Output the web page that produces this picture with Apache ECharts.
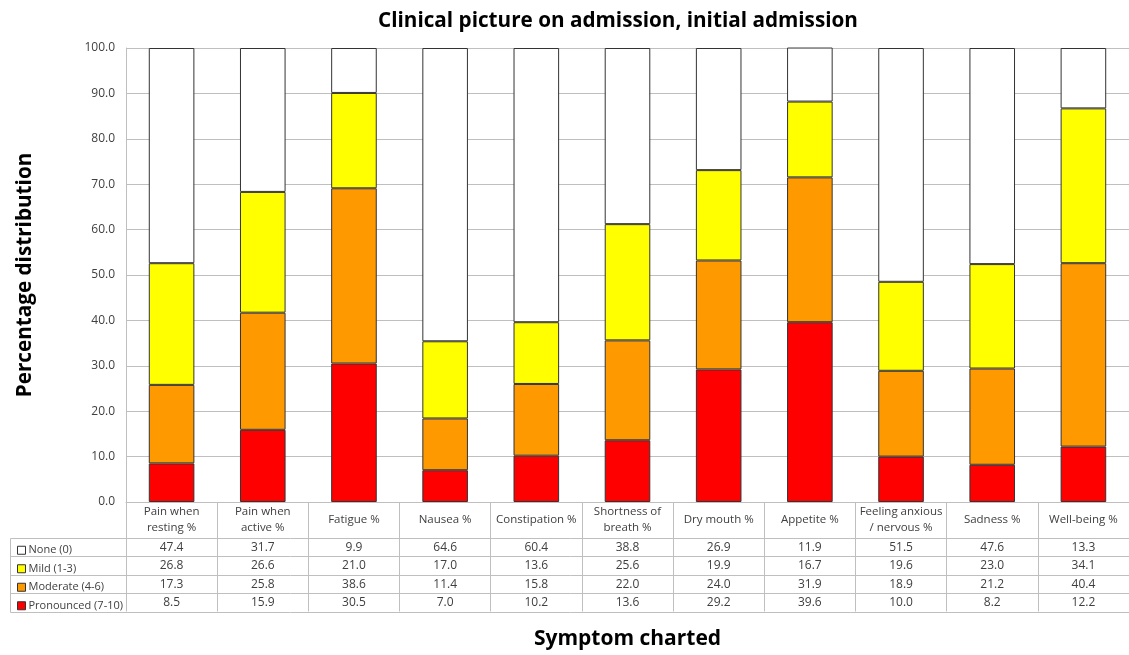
<!DOCTYPE html>
<html><head><meta charset="utf-8">
<script src="https://cdn.jsdelivr.net/npm/echarts@6/dist/echarts.min.js"></script>
<style>html,body{margin:0;padding:0;background:#fff}#c{width:1129px;height:655px}</style>
</head><body><div id="c"></div>
<script>
const categories = ['Pain when\nresting %','Pain when\nactive %','Fatigue %','Nausea %','Constipation %','Shortness of\nbreath %','Dry mouth %','Appetite %','Feeling anxious\n/ nervous %','Sadness %','Well-being %'];
const rowNames = ['None (0)','Mild (1-3)','Moderate (4-6)','Pronounced (7-10)'];
const noneVals = [47.4,31.7,9.9,64.6,60.4,38.8,26.9,11.9,51.5,47.6,13.3];
const mildVals = [26.8,26.6,21.0,17.0,13.6,25.6,19.9,16.7,19.6,23.0,34.1];
const moderateVals = [17.3,25.8,38.6,11.4,15.8,22.0,24.0,31.9,18.9,21.2,40.4];
const pronouncedVals = [8.5,15.9,30.5,7.0,10.2,13.6,29.2,39.6,10.0,8.2,12.2];
const colors = {'None (0)':'#ffffff','Mild (1-3)':'#ffff00','Moderate (4-6)':'#ff9900','Pronounced (7-10)':'#ff0000'};
const tableRows = [noneVals, mildVals, moderateVals, pronouncedVals];

const FONT = '"Open Sans", "Noto Sans", sans-serif';
const TXT = '#404040';
const LINE = '#bfbfbf';

const chart = echarts.init(document.getElementById('c'), null, {renderer:'canvas'});

function mk(name, vals){
  return {name, type:'bar', stack:'s', data:vals, barWidth:'50%',
    itemStyle:{color:colors[name], borderColor:'#333', borderWidth:1},
    emphasis:{disabled:true}};
}

const option = {
  animation:false,
  textStyle:{fontFamily:FONT},
  title:{text:'Clinical picture on admission, initial admission', left:373, top:6,
    textStyle:{fontFamily:FONT, fontSize:20.7, fontWeight:'bold', color:'#000'}},
  legend:{orient:'vertical', left:12, top:538, itemWidth:8, itemHeight:8, itemGap:4,
    icon:'rect', selectedMode:false,
    data:rowNames,
    itemStyle:{borderColor:'#333', borderWidth:1},
    textStyle:{fontFamily:FONT, fontSize:11, color:TXT, lineHeight:14.5, padding:[0,0,0,-2]}},
  grid:{left:126, top:48, width:1009, height:456, containLabel:false},
  xAxis:{type:'category', data:categories, boundaryGap:true,
    name:'Symptom charted', nameLocation:'middle', nameGap:127,
    nameTextStyle:{fontFamily:FONT, fontSize:21, fontWeight:'bold', color:'#000'},
    axisLine:{lineStyle:{color:LINE, width:1}},
    axisTick:{show:true, interval:0, length:109.5, lineStyle:{color:LINE}},
    axisLabel:{interval:0, margin:18, verticalAlign:'middle', fontSize:11.5, lineHeight:16, color:TXT, fontFamily:FONT},
    splitLine:{show:false}},
  yAxis:{type:'value', min:0, max:100, interval:10,
    name:'Percentage distribution', nameLocation:'middle', nameGap:90, nameRotate:90,
    nameTextStyle:{fontFamily:FONT, fontSize:20.7, fontWeight:'bold', color:'#000'},
    axisLine:{show:true, lineStyle:{color:LINE}},
    axisTick:{show:false},
    axisLabel:{formatter:v=>v.toFixed(1), fontSize:12, color:TXT, margin:11, fontFamily:FONT},
    splitLine:{lineStyle:{color:LINE}}},
  series:[mk('Pronounced (7-10)', pronouncedVals), mk('Moderate (4-6)', moderateVals), mk('Mild (1-3)', mildVals), mk('None (0)', noneVals)]
};
chart.setOption(option);

const y0 = chart.convertToPixel({yAxisIndex:0}, 0);
const headerH = 35.5, rowH = 18.5, tableLeft = 10.5, tableRight = 1140;
const graphics = [];
for (let r = 0; r <= tableRows.length; r++) {
  const y = Math.round(y0 + headerH + r*rowH) + 0.5;
  graphics.push({type:'line', shape:{x1:tableLeft, y1:y, x2:tableRight, y2:y}, style:{stroke:LINE, lineWidth:1}, silent:true});
}
graphics.push({type:'line', shape:{x1:tableLeft, y1:Math.round(y0+headerH)+0.5, x2:tableLeft, y2:Math.round(y0+headerH+4*rowH)+0.5}, style:{stroke:LINE, lineWidth:1}, silent:true});
tableRows.forEach((vals, r) => {
  const yc = y0 + headerH + r*rowH + rowH/2 + 0.5;
  vals.forEach((v, i) => {
    const xc = chart.convertToPixel({xAxisIndex:0}, i);
    graphics.push({type:'text', x:xc, y:yc, silent:true,
      style:{text:v.toFixed(1), align:'center', verticalAlign:'middle', fill:TXT, font:'12px ' + FONT}});
  });
});
chart.setOption({graphic:graphics});
</script></body></html>
